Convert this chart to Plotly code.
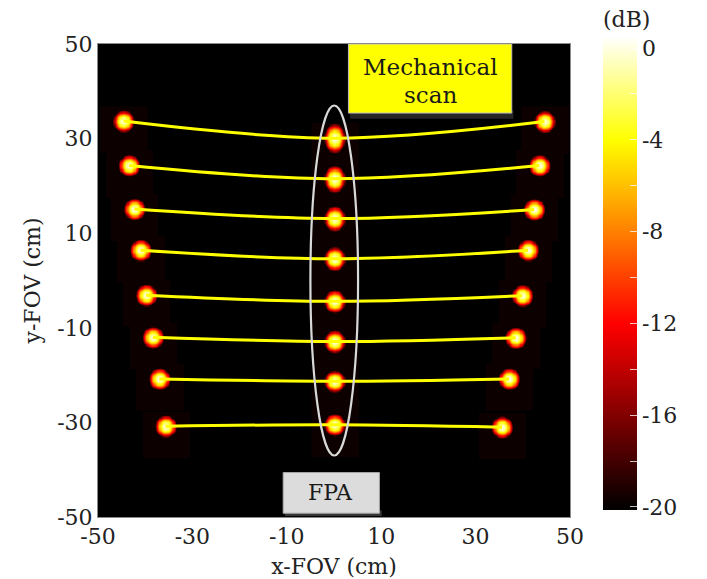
import numpy as np
import plotly.graph_objects as go

# ---------------- data ----------------
# focal spots (cm): left column, centre column (FPA), right column
left_x = [-44.6, -43.4, -42.3, -41.0, -39.8, -38.4, -37.0, -35.7]
left_y = [33.7, 24.3, 15.1, 6.4, -3.1, -12.0, -20.8, -30.8]
center_x = [0.1, 0.1, 0.1, 0.1, 0.1, 0.1, 0.1, 0.1]
center_y = [30.1, 21.5, 13.1, 4.6, -4.4, -12.9, -21.3, -30.5]
right_x = [44.6, 43.5, 42.4, 41.1, 39.9, 38.5, 37.1, 35.6]
right_y = [33.6, 24.3, 15.0, 6.4, -3.2, -12.1, -20.8, -31.0]
# vertical elongation of the centre spots
center_elong = [1.35, 1.25, 1.15, 1.1, 1.05, 1.05, 1.0, 1.0]
peak_db = 0.0
patch_db = -19.75

axis_ticks = [-50, -30, -10, 10, 30, 50]
axis_ticktext = ["-50", "-30", "-10", "10", "30", "50"]
cb_tickvals = [0, -2, -4, -6, -8, -10, -12, -14, -16, -18, -20]
cb_ticktext = ["0", "", "-4", "", "-8", "", "-12", "", "-16", "", "-20"]

zmin, zmax = -20.13, 0.44

# ---------------- heat-map built from the spot arrays ----------------
gx = np.linspace(-50, 50, 401)
gy = np.linspace(-50, 50, 401)
X, Y = np.meshgrid(gx, gy)
Z = np.full(X.shape, zmin)

spots = []
for i in range(len(left_x)):
    spots.append((left_x[i], left_y[i], 1.0))
    spots.append((center_x[i], center_y[i], center_elong[i]))
    spots.append((right_x[i], right_y[i], 1.0))

k = 3.6  # dB per cm^2
for cx, cy, el in spots:
    patch = (np.abs(X - cx) <= 5) & (Y <= cy + 3.2) & (Y >= cy - 6.6)
    Z = np.where(patch, np.maximum(Z, patch_db), Z)
    spot = peak_db - k * ((X - cx) ** 2 + ((Y - cy) / el) ** 2)
    Z = np.maximum(Z, spot)
Z = np.round(Z, 2)

colorscale = [
    [0.0, "rgb(0,0,0)"],
    [0.395, "rgb(255,0,0)"],
    [0.784, "rgb(255,255,0)"],
    [1.0, "rgb(255,255,250)"],
]

fig = go.Figure()
fig.add_trace(go.Heatmap(
    x=gx, y=gy, z=Z, zmin=zmin, zmax=zmax, colorscale=colorscale,
    zsmooth="best", hoverinfo="skip",
    colorbar=dict(
        x=1.0699, xanchor="left", xpad=0,
        y=0.5455, yanchor="middle", ypad=0,
        len=502, lenmode="pixels", thickness=34, thicknessmode="pixels",
        outlinewidth=0,
        tickmode="array", tickvals=cb_tickvals, ticktext=cb_ticktext,
        ticks="inside", ticklen=7, tickwidth=1, tickcolor="rgba(255,255,255,0.75)",
        tickfont=dict(family="DejaVu Serif", size=22, color="#222"),
        title=dict(text="(dB)", side="top",
                   font=dict(family="DejaVu Serif", size=22, color="#222")),
    ),
))

# scan curves through left / centre / right spots
for i in range(len(left_x)):
    fig.add_trace(go.Scatter(
        x=[left_x[i], center_x[i], right_x[i]],
        y=[left_y[i], center_y[i], right_y[i]],
        mode="lines", line=dict(color="#ffff00", width=3, shape="spline", smoothing=1.0),
        hoverinfo="skip", showlegend=False,
    ))

shapes = [
    # ellipse around the FPA column
    dict(type="circle", xref="x", yref="y", x0=-5.0, x1=5.1, y0=-37.0, y1=37.0,
         line=dict(color="#d9d9d9", width=2.2), layer="above"),
    # shadow + box "Mechanical scan"
    dict(type="rect", xref="x", yref="y", x0=3.4, x1=38.0, y0=34.2, y1=36.0,
         fillcolor="rgba(110,110,110,0.35)", line=dict(width=0), layer="above"),
    dict(type="rect", xref="x", yref="y", x0=3.06, x1=37.66, y0=35.4, y1=50.0,
         fillcolor="#ffff00", line=dict(color="#bdbdbd", width=1), layer="above"),
    # shadow + box "FPA"
    dict(type="rect", xref="x", yref="y", x0=-10.4, x1=10.1, y0=-49.8, y1=-48.6,
         fillcolor="rgba(120,120,120,0.45)", line=dict(width=0), layer="above"),
    dict(type="rect", xref="x", yref="y", x0=-10.77, x1=9.62, y0=-49.2, y1=-40.6,
         fillcolor="#dcdcdc", line=dict(color="#a8a8a8", width=1), layer="above"),
]

ann_font = dict(family="DejaVu Serif", size=23, color="#1a1a1a")
annotations = [
    dict(text="Mechanical", x=20.34, y=45.1, xref="x", yref="y", showarrow=False,
         font=ann_font, xanchor="center", yanchor="middle"),
    dict(text="scan", x=20.34, y=39.2, xref="x", yref="y", showarrow=False,
         font=ann_font, xanchor="center", yanchor="middle"),
    dict(text="FPA", x=-0.64, y=-44.9, xref="x", yref="y", showarrow=False,
         font=dict(family="DejaVu Serif", size=22, color="#1a1a1a"),
         xanchor="center", yanchor="middle"),
]

axis_font = dict(family="DejaVu Serif", size=22, color="#222")
fig.update_layout(
    width=707, height=579,
    margin=dict(l=98, r=137, t=44, b=62, autoexpand=False),
    paper_bgcolor="white", plot_bgcolor="black",
    shapes=shapes, annotations=annotations,
    showlegend=False,
    xaxis=dict(range=[-50, 50], tickmode="array", tickvals=axis_ticks,
               ticktext=axis_ticktext, tickfont=axis_font, ticks="",
               showgrid=False, zeroline=False, showline=True, linecolor="#8a8a8a",
               linewidth=1, mirror=True,
               title=dict(text="x-FOV (cm)", font=axis_font, standoff=10)),
    yaxis=dict(range=[-50, 50], tickmode="array", tickvals=axis_ticks,
               ticktext=axis_ticktext, tickfont=axis_font, ticks="",
               showgrid=False, zeroline=False, showline=True, linecolor="#8a8a8a",
               linewidth=1, mirror=True,
               title=dict(text="y-FOV (cm)", font=axis_font, standoff=10)),
)

fig.write_html("out.html")
